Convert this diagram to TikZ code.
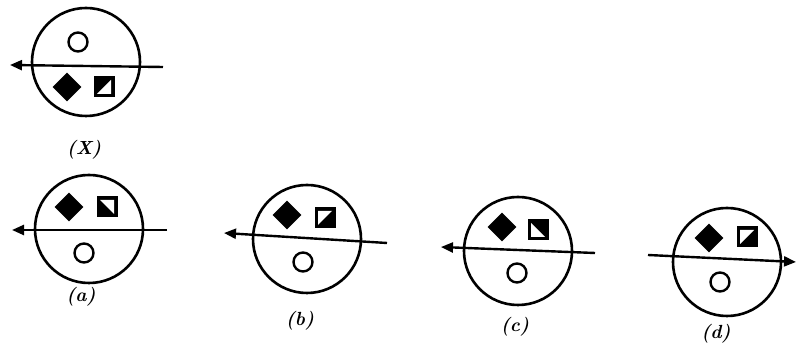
\documentclass[tikz,border=0pt]{standalone}
\usepackage{fontspec}
\usetikzlibrary{shapes.geometric,arrows.meta}
\newcommand\hsq[5]{%
  \node[sqb] (#1) at (#2) {};
  \fill[white] ([shift={#3}]#1.center) -- ([shift={#4}]#1.center) -- ([shift={#5}]#1.center) -- cycle;}
\begin{document}
\begin{tikzpicture}[x=1pt,y=-1pt,
 bigc/.style={circle,draw,line width=2.6pt,minimum size=108pt,inner sep=0pt},
 smallc/.style={circle,draw,line width=2.4pt,minimum size=19pt,inner sep=0pt},
 dia/.style={diamond,fill=black,minimum width=29pt,minimum height=29pt,inner sep=0pt},
 sqb/.style={rectangle,fill=black,minimum size=21pt,inner sep=0pt},
 axis/.style={line width=2.4pt,-{Triangle[length=12pt,width=10pt]}},
 lbl/.style={font=\fontsize{19}{22}\selectfont\itshape\bfseries}]
\useasboundingbox (0,0) rectangle (796,352);
% (X)
\node[bigc] (Xc) at (86,62) {};
\node[smallc] (Xo) at (78,42) {};
\node[dia] (Xd) at (67,87) {};
\hsq{Xs}{104,87}{(-7,7)}{(7,7)}{(7,-7)}
\coordinate (Xa1) at (163,67);
\coordinate (Xa2) at (10,65);
\draw[axis] (Xa1) -- (Xa2);
\node[lbl] (Xl) at (84,150) {(X)};
% (a)
\node[bigc] (Ac) at (89,229) {};
\node[smallc] (Ao) at (84,253) {};
\node[dia] (Ad) at (69,207) {};
\hsq{As}{107,207}{(-7,-7)}{(7,-7)}{(7,7)}
\coordinate (Aa1) at (167,230);
\coordinate (Aa2) at (12,230);
\draw[axis] (Aa1) -- (Aa2);
\node[lbl] (Al) at (81,297) {(a)};
% (b)
\node[bigc] (Bc) at (307,239) {};
\node[smallc] (Bo) at (303,262) {};
\node[dia] (Bd) at (287,215) {};
\hsq{Bs}{325,218}{(-7,-7)}{(7,-7)}{(-7,7)}
\coordinate (Ba1) at (387,243);
\coordinate (Ba2) at (224,233);
\draw[axis] (Ba1) -- (Ba2);
\node[lbl] (Bl) at (300,321) {(b)};
% (c)
\node[bigc] (Cc) at (518,251) {};
\node[smallc] (Co) at (517,273) {};
\node[dia] (Cd) at (502,227) {};
\hsq{Cs}{538,230}{(-7,-7)}{(-7,7)}{(7,7)}
\coordinate (Ca1) at (595,253);
\coordinate (Ca2) at (441,247);
\draw[axis] (Ca1) -- (Ca2);
\node[lbl] (Cl) at (515,327) {(c)};
% (d)
\node[bigc] (Dc) at (727,262) {};
\node[smallc] (Do) at (720,282) {};
\node[dia] (Dd) at (709,238) {};
\hsq{Ds}{747,237}{(-7,-7)}{(7,-7)}{(-7,7)}
\coordinate (Da1) at (648,255);
\coordinate (Da2) at (796,262);
\draw[axis] (Da1) -- (Da2);
\node[lbl] (Dl) at (716,334) {(d)};
\end{tikzpicture}
\end{document}
